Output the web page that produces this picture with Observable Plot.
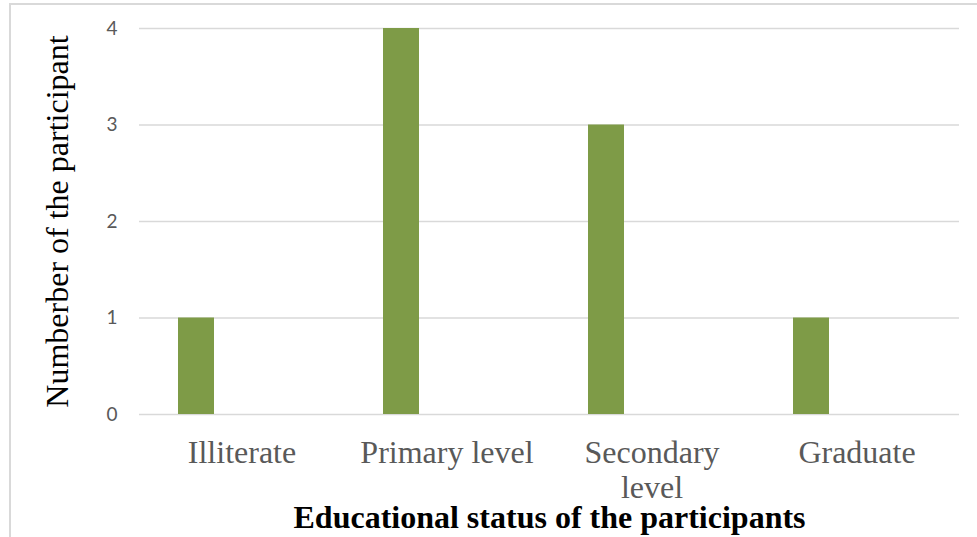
<!DOCTYPE html>
<html>
<head>
<meta charset="utf-8">
<script src="https://cdn.jsdelivr.net/npm/d3@7"></script>
<script src="https://cdn.jsdelivr.net/npm/@observablehq/plot@0.6"></script>
<style>
  html, body { margin: 0; padding: 0; background: #fff; }
  #wrap { position: relative; width: 977px; height: 537px; overflow: hidden; }
  #border { position: absolute; left: 9px; top: 3px; width: 980px; height: 540px;
            border-left: 2px solid #d9d9d9; border-top: 2px solid #d9d9d9; box-sizing: border-box; }
  #chart { position: absolute; left: 0; top: 0; }
</style>
</head>
<body>
<div id="wrap"><div id="border"></div><div id="chart"></div></div>
<script>
const categories = ["Illiterate", "Primary level", "Secondary level", "Graduate"];
const tickLabels = ["Illiterate", "Primary level", "Secondary\nlevel", "Graduate"];
const counts = [1, 4, 3, 1];
const yTicks = [0, 1, 2, 3, 4];
const xTitle = "Educational status of the participants";
const yTitle = "Numberber of the participant";

const data = categories.map((c, i) => ({category: c, count: counts[i]}));
const serif = "'Liberation Serif', 'Times New Roman', serif";

const chart = Plot.plot({
  width: 977,
  height: 537,
  marginLeft: 139,
  marginRight: 18,
  marginTop: 28,
  marginBottom: 123,
  style: {background: "transparent", overflow: "visible"},
  x: {type: "band", domain: categories, padding: 0, axis: null},
  y: {domain: [0, 4], axis: null},
  marks: [
    Plot.gridY(yTicks, {stroke: "#d9d9d9", strokeOpacity: 1, strokeWidth: 1.5}),
    Plot.barY(data, {x: "category", y: "count", fill: "#7e9b47", insetLeft: 39, insetRight: 130}),
    Plot.text(yTicks, {
      y: d => d, text: d => String(d), frameAnchor: "left", dx: -22, textAnchor: "end",
      fontFamily: "Lato, 'Open Sans', sans-serif", fontSize: 19, fill: "#595959"
    }),
    Plot.text(categories, {
      x: d => d, text: (d, i) => tickLabels[i], frameAnchor: "bottom", lineAnchor: "top",
      dy: 23, lineHeight: 1.1, fontFamily: serif, fontSize: 32, fill: "#595959"
    }),
    Plot.text([xTitle], {
      text: d => d, frameAnchor: "bottom", dy: 113, fontFamily: serif, fontSize: 32,
      fontWeight: "bold", fill: "#000"
    }),
    Plot.text([yTitle], {
      text: d => d, frameAnchor: "left", dx: -82, rotate: -90, textAnchor: "middle",
      fontFamily: serif, fontSize: 32, fill: "#000"
    })
  ]
});
document.getElementById("chart").appendChild(chart);
</script>
</body>
</html>
